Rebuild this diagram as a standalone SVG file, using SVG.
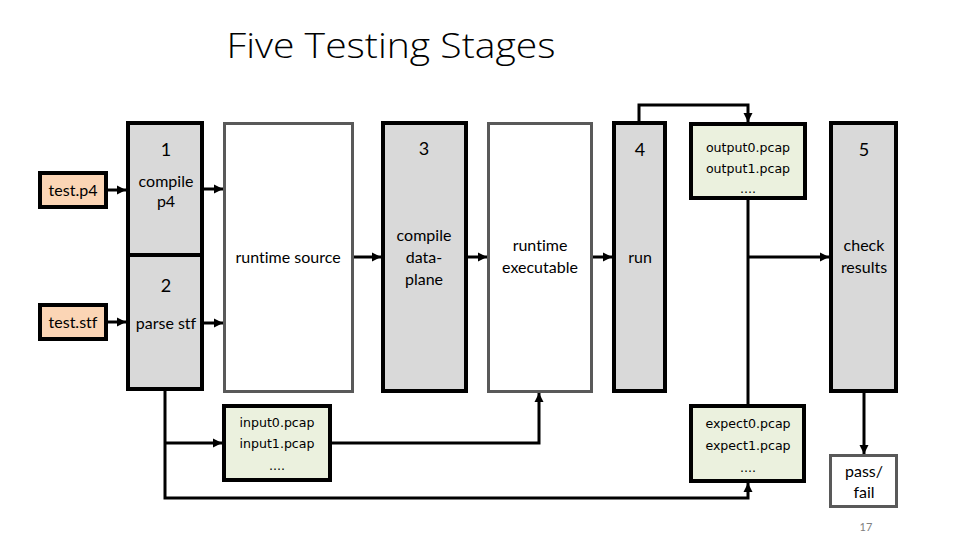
<svg xmlns="http://www.w3.org/2000/svg" width="960" height="540" viewBox="0 0 960 540">
<style>
text{font-variant-ligatures:none;font-feature-settings:"liga" 0,"clig" 0,"dlig" 0}
.stage{fill:#d9d9d9;stroke:#000;stroke-width:4}
.art{fill:#fff;stroke:#595959;stroke-width:3}
.file{fill:#fbd5b5;stroke:#000;stroke-width:4}
.pcap{fill:#ebf1de;stroke:#000;stroke-width:4}
.lbl{font-family:Lato,"Liberation Sans",sans-serif;font-size:16px;fill:#000;text-anchor:middle}
.num{font-family:Lato,"Liberation Sans",sans-serif;font-size:18px;fill:#000;text-anchor:middle}
.mono{font-family:"DejaVu Sans",Verdana,sans-serif;font-size:12.6px;fill:#000;text-anchor:middle}
.conn{fill:none;stroke:#000;stroke-width:3}
</style>
<defs>
<marker id="ah" markerUnits="userSpaceOnUse" markerWidth="10" markerHeight="10" refX="9" refY="5" orient="auto">
<path d="M0,0.5 L9,5 L0,9.5 Z" fill="#000"/>
</marker>
</defs>
<rect width="960" height="540" fill="#fff"/>
<text x="391" y="58" font-family="'Open Sans',Lato,sans-serif" font-weight="300" font-size="35" fill="#000" text-anchor="middle" textLength="329" lengthAdjust="spacingAndGlyphs">Five Testing Stages</text>

<g id="connectors">
<line class="conn" x1="108" y1="190" x2="126" y2="190" marker-end="url(#ah)"/>
<line class="conn" x1="108" y1="322" x2="126" y2="322" marker-end="url(#ah)"/>
<line class="conn" x1="204" y1="189" x2="223" y2="189" marker-end="url(#ah)"/>
<line class="conn" x1="204" y1="323" x2="223" y2="323" marker-end="url(#ah)"/>
<line class="conn" x1="354" y1="257" x2="381" y2="257" marker-end="url(#ah)"/>
<line class="conn" x1="468" y1="257" x2="487" y2="257" marker-end="url(#ah)"/>
<line class="conn" x1="593" y1="257" x2="612" y2="257" marker-end="url(#ah)"/>
<path class="conn" d="M639,121 V105 H748 V122" marker-end="url(#ah)"/>
<path class="conn" d="M748,200 V404"/>
<line class="conn" x1="748" y1="257" x2="829" y2="257" marker-end="url(#ah)"/>
<line class="conn" x1="864" y1="393" x2="864" y2="454" marker-end="url(#ah)"/>
<path class="conn" d="M165,391 V498 H748 V483" marker-end="url(#ah)"/>
<line class="conn" x1="165" y1="443" x2="222" y2="443" marker-end="url(#ah)"/>
<path class="conn" d="M332,443 H539 V393" marker-end="url(#ah)"/>
</g>

<g id="test-p4">
<rect class="file" x="40" y="173" width="66" height="34"/>
<text class="lbl" x="73" y="196">test.p4</text>
</g>
<g id="test-stf">
<rect class="file" x="40" y="305" width="66" height="34"/>
<text class="lbl" x="73" y="328">test.stf</text>
</g>
<g id="stage1">
<rect class="stage" x="128" y="123" width="74" height="132"/>
<text class="num" x="166" y="156">1</text>
<text class="lbl" x="166" y="187">compile</text>
<text class="lbl" x="166" y="207">p4</text>
</g>
<g id="stage2">
<rect class="stage" x="128" y="255" width="74" height="134"/>
<text class="num" x="166" y="292">2</text>
<text class="lbl" x="166" y="329">parse stf</text>
</g>
<g id="runtime-source">
<rect class="art" x="224.5" y="123.5" width="128" height="268"/>
<text class="lbl" x="288" y="263">runtime source</text>
</g>
<g id="stage3">
<rect class="stage" x="383" y="123" width="83" height="268"/>
<text class="num" x="424" y="155">3</text>
<text class="lbl" x="424" y="241">compile</text>
<text class="lbl" x="424" y="263">data-</text>
<text class="lbl" x="424" y="285">plane</text>
</g>
<g id="runtime-executable">
<rect class="art" x="488.5" y="123.5" width="103" height="268"/>
<text class="lbl" x="540" y="251">runtime</text>
<text class="lbl" x="540" y="273">executable</text>
</g>
<g id="stage4">
<rect class="stage" x="614" y="123" width="51" height="268"/>
<text class="num" x="640" y="156">4</text>
<text class="lbl" x="640" y="263">run</text>
</g>
<g id="output-pcap">
<rect class="pcap" x="691" y="124" width="114" height="74"/>
<text class="mono" x="748" y="152">output0.pcap</text>
<text class="mono" x="748" y="173">output1.pcap</text>
<text class="mono" x="748" y="193">....</text>
</g>
<g id="stage5">
<rect class="stage" x="831" y="123" width="65" height="268"/>
<text class="num" x="864" y="156">5</text>
<text class="lbl" x="864" y="251">check</text>
<text class="lbl" x="864" y="273">results</text>
</g>
<g id="input-pcap">
<rect class="pcap" x="224" y="406" width="106" height="74"/>
<text class="mono" x="277" y="427">input0.pcap</text>
<text class="mono" x="277" y="448">input1.pcap</text>
<text class="mono" x="277" y="470">....</text>
</g>
<g id="expect-pcap">
<rect class="pcap" x="691" y="406" width="113" height="75"/>
<text class="mono" x="748" y="428">expect0.pcap</text>
<text class="mono" x="748" y="450">expect1.pcap</text>
<text class="mono" x="748" y="472">....</text>
</g>
<g id="pass-fail">
<rect class="art" x="830.5" y="455.5" width="66" height="51"/>
<text class="lbl" x="864" y="477">pass/</text>
<text class="lbl" x="864" y="498">fail</text>
</g>
<text x="866" y="531" font-family="Lato,'Liberation Sans',sans-serif" font-size="11" fill="#808080" text-anchor="middle">17</text>
</svg>
